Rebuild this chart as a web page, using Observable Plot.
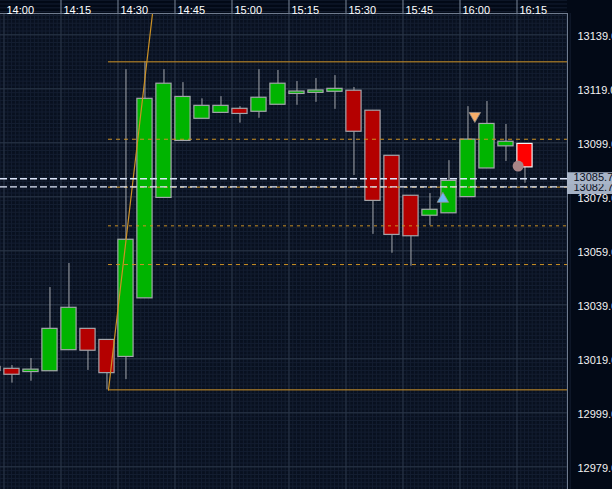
<!DOCTYPE html>
<html><head><meta charset="utf-8">
<script src="https://cdn.jsdelivr.net/npm/d3@7"></script>
<script src="https://cdn.jsdelivr.net/npm/@observablehq/plot@0.6"></script>
<style>
html,body{margin:0;padding:0;background:#020916;overflow:hidden;}
#chart svg{overflow:hidden;display:block;}
</style></head><body><div id="chart"></div>
<script>
// ---- data ----
const candleTimes = ["13:55","14:00","14:05","14:10","14:15","14:20","14:25","14:30","14:35","14:40","14:45","14:50","14:55","15:00","15:05","15:10","15:15","15:20","15:25","15:30","15:35","15:40","15:45","15:50","15:55","16:00","16:05","16:10","16:15"];
const opens  = [13016.0,13015.3,13014.1,13014.4,13022.2,13030.1,13026.0,13019.7,13041.4,13078.6,13099.7,13107.9,13110.1,13111.6,13110.5,13113.1,13117.1,13117.5,13117.9,13118.3,13110.9,13094.2,13079.4,13072.0,13072.9,13078.9,13089.5,13097.7,13098.6];
const highs  = [13016.5,13016.5,13019.1,13045.4,13054.3,13030.1,13026.0,13126.1,13129.0,13126.1,13121.3,13115.3,13116.1,13112.4,13126.1,13125.8,13121.7,13122.8,13123.9,13119.5,13110.9,13094.2,13079.4,13080.2,13092.4,13112.4,13114.3,13105.8,13098.6];
const lows   = [13013.0,13010.0,13010.7,13014.4,13022.2,13014.7,13007.5,13011.3,13041.4,13078.6,13099.7,13107.9,13110.1,13106.3,13108.1,13113.1,13112.9,13114.0,13111.4,13086.9,13065.1,13058.1,13053.3,13068.3,13072.9,13078.9,13089.5,13092.1,13084.0];
const closes = [13014.5,13013.1,13015.0,13030.1,13037.9,13022.0,13013.7,13063.1,13115.3,13120.9,13116.0,13112.7,13112.7,13109.7,13115.7,13120.9,13118.0,13118.4,13119.0,13103.1,13077.5,13064.9,13064.4,13074.2,13084.9,13100.2,13106.0,13099.4,13089.9];
const timeTicks  = ["14:00","14:15","14:30","14:45","15:00","15:15","15:30","15:45","16:00","16:15"];
const priceTicks = [13139,13119,13099,13079,13059,13039,13019,12999,12979];
const fibHigh = 13129.0, fibLow = 13007.5, fibStart = "14:27:30";
const fibRatios = [0.236, 0.382, 0.5, 0.618];
const trendTimes  = ["14:27:30","14:42:00"];
const trendValues = [13007.5, 13182.0];
const priceLines = [13085.7, 13082.7];
const sellSignal = {time:"16:03:54", value:13109.0};
const buySignal  = {time:"15:55:30", value:13078.2};
const stopMark   = {time:"16:15:18", value:13090.4};

// ---- helpers ----
const toMin = s => { const p = s.split(":").map(Number); return p[0]*60 + p[1] + (p[2]||0)/60 - 840; };
const xDomain = [-0.921, 148.29];
const yDomain = [12970.6, 13146.9];
const xMax = xDomain[1];
const ORANGE = "#cc9124";
const candles = candleTimes.map((s,i)=>({t:toMin(s), o:opens[i], h:highs[i], l:lows[i], c:closes[i], last: i===candleTimes.length-1}));
const fibLevels = fibRatios.map(r => ({v: fibHigh - r*(fibHigh-fibLow), r}));
const trend = trendTimes.map((s,i)=>({t:toMin(s), v:trendValues[i]}));
const majorX = timeTicks.map(toMin);
const fineX = d3.range(-1, 150, 1);
const fineY = d3.range(12959, 13160, 20/14);
const font = "Liberation Sans";
const txt = {fontFamily: font, fontSize: 11};

const chart = Plot.plot({
  width: 612, height: 489,
  marginTop: 13, marginRight: 45, marginBottom: 0, marginLeft: 0,
  style: {background: "#020916", fontFamily: font, fontSize: "11px"},
  x: {domain: xDomain, axis: null},
  y: {domain: yDomain, axis: null},
  marks: [
    Plot.frame({fill: "#08101f", stroke: null}),
    Plot.ruleX(fineX, {stroke: "#141e31"}),
    Plot.ruleY(fineY, {stroke: "#141e31"}),
    Plot.ruleX(majorX, {stroke: "#2b3748"}),
    Plot.ruleY(priceTicks, {stroke: "#2b3748"}),
    // candles
    Plot.ruleX(candles, {x: d => d.t + 2.1, y1: "l", y2: "h", stroke: "#a3a6ab", strokeWidth: 1}),
    Plot.rect(candles, {x1: d => d.t + 0.1, x2: d => d.t + 4.1, y1: "o", y2: "c",
      fill: d => d.last ? "#ff0000" : (d.c >= d.o ? "#00b400" : "#b40000"),
      stroke: d => d.last ? "#f2f2f2" : "#a3a6ab", strokeWidth: 1.2}),
    // fibonacci
    Plot.ruleY(fibLevels.filter(d => d.r !== 0.5), {y: "v", x1: toMin(fibStart), x2: xMax, stroke: ORANGE, strokeDasharray: "4,4"}),
    Plot.ruleY(fibLevels.filter(d => d.r === 0.5), {y: "v", x1: toMin(fibStart), x2: xMax, stroke: ORANGE, strokeDasharray: "3,4"}),
    Plot.ruleY([fibHigh, fibLow], {x1: toMin(fibStart), x2: xMax, stroke: ORANGE}),
    Plot.line(trend, {x: "t", y: "v", stroke: ORANGE, strokeWidth: 1.2, clip: true}),
    Plot.ruleY(priceLines, {stroke: "#dfe7fb", strokeDasharray: "7,3", strokeWidth: 1.3}),
    // signals
    Plot.dot([sellSignal], {x: d => toMin(d.time), y: "value", symbol: "triangle", rotate: 180, r: 4.3, fill: "#f7ae6a", stroke: "#8c8c8c", strokeWidth: 0.8}),
    Plot.dot([buySignal], {x: d => toMin(d.time), y: "value", symbol: "triangle", r: 4.3, fill: "#6db7f3", stroke: "#8c8c8c", strokeWidth: 0.8}),
    Plot.dot([stopMark], {x: d => toMin(d.time), y: "value", r: 5.5, fill: "#a88587"}),
    // borders
    Plot.ruleY([yDomain[1]], {stroke: "#6f7b8e"}),
    Plot.ruleX([xMax], {stroke: "#6f7b8e"}),
    // header
    Plot.ruleX(majorX.slice(1), {stroke: "#7c889a", insetTop: -13, insetBottom: 476}),
    Plot.text(timeTicks, {...txt, x: toMin, text: d => d, frameAnchor: "top", dy: -7, dx: 2.5, textAnchor: "start", fill: "#ffffff"}),
    // price axis
    Plot.text(priceTicks, {...txt, y: d => d, text: d => d.toFixed(1), frameAnchor: "right", dx: 10, dy: 1.5, textAnchor: "start", fill: "#f2f2f2"}),
    Plot.ruleY([priceLines[1]], {x1: xMax, x2: xMax + 12, stroke: "#a5b1c4", strokeWidth: 12, dy: 1.2}),
    Plot.text([priceLines[1]], {...txt, y: d => d, text: d => d.toFixed(1), frameAnchor: "right", dx: 6, dy: 1, textAnchor: "start", fill: "#0a0f1e"}),
    Plot.ruleY([priceLines[0]], {x1: xMax, x2: xMax + 12, stroke: "#a9b5c8", strokeWidth: 12, dy: -0.5}),
    Plot.text([priceLines[0]], {...txt, y: d => d, text: d => d.toFixed(1), frameAnchor: "right", dx: 6, dy: -1, textAnchor: "start", fill: "#0a0f1e"})
  ]
});
document.getElementById("chart").appendChild(chart);
</script></body></html>
